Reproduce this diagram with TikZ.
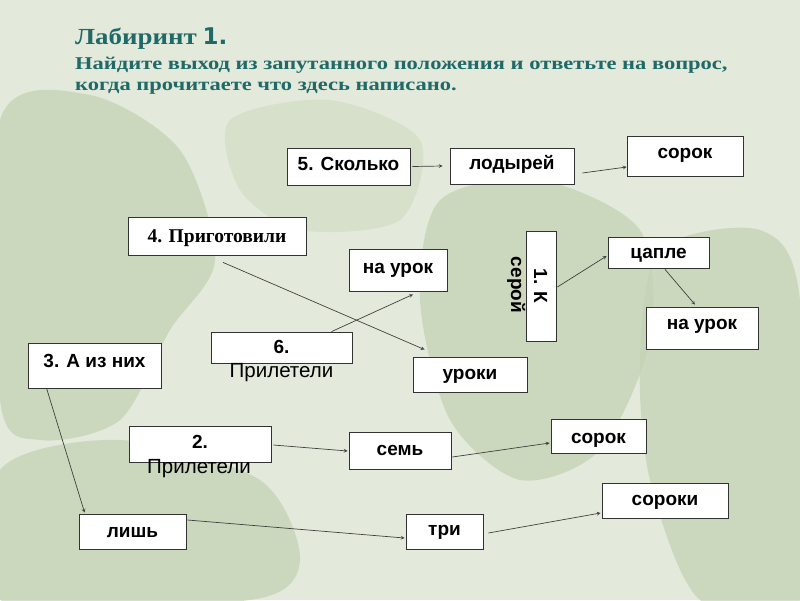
\documentclass[tikz,border=0pt]{standalone}
\usepackage{fontspec}
\setmainfont{Liberation Serif}
\newfontfamily\arialfont{Liberation Sans}
\newfontfamily\heavyfont{DejaVu Sans}
\usetikzlibrary{arrows, positioning, calc}

\definecolor{bgcol}{HTML}{E4EADB}
\definecolor{leafcol}{HTML}{C3D1B3}
\definecolor{titlecol}{HTML}{1F6A68}

\begin{document}
\begin{tikzpicture}[
    x=1pt, y=-1pt,
    box/.style={rectangle, draw=black!80, fill=white, inner sep=0pt, line width=0.8pt, font=\arialfont\bfseries\fontsize{19}{22}\selectfont},
    serifbox/.style={box, font=\bfseries\fontsize{19.5}{22}\selectfont},
    overtext/.style={inner sep=0pt, font=\arialfont\fontsize{20.5}{23}\selectfont},
    headline/.style={anchor=base west, inner sep=0pt, text=titlecol, font=\bfseries\fontsize{18}{21}\selectfont},
    leaf/.style={fill=leafcol, opacity=0.7},
    arrow/.style={->, >=stealth, draw=black!75, line width=0.7pt}
]

% background
\fill[bgcol] (0,0) rectangle (800,600);
\useasboundingbox (0,0) rectangle (800,600);
\fill[leaf] plot[smooth cycle] coordinates {(0,120) (90,95) (180,150) (215,260) (170,330) (120,420) (40,440) (0,400)};
\fill[leaf] plot[smooth cycle] coordinates {(440,200) (540,180) (640,230) (650,340) (600,450) (520,480) (450,420) (420,300)};
\fill[leaf] plot[smooth cycle] coordinates {(660,250) (760,230) (800,300) (800,600) (700,600) (650,480) (640,360)};
\fill[leaf] plot[smooth cycle] coordinates {(0,470) (120,440) (260,480) (300,560) (250,600) (0,600)};
\fill[leaf, opacity=0.4] plot[smooth cycle] coordinates {(230,120) (330,100) (420,140) (400,220) (300,230) (240,190)};

% title
\node[headline, font=\bfseries\fontsize{23}{26}\selectfont] (title) at (75,44) {\scalebox{1.17}[1]{Лабиринт} {\heavyfont 1.}};
\node[headline] (task1) at (75,69) {\scalebox{1.25}[1]{Найдите выход из запутанного положения и ответьте на вопрос,}};
\node[headline] (task2) at (75,90) {\scalebox{1.25}[1]{когда прочитаете что здесь написано.}};

% boxes
\node[box, minimum width=123pt, text height=22pt, text depth=15pt] (skolko) at (348.5,166.5) {5. Сколько};
\node[box, minimum width=124pt, text height=21pt, text depth=15pt] (lodyrey) at (512,166) {лодырей};
\node[box, minimum width=116pt, text height=22pt, text depth=18pt] (sorokA) at (685,156) {сорок};
\node[serifbox, minimum width=178pt, text height=25pt, text depth=13pt] (prigot) at (217,236) {4. Приготовили};
\node[box, minimum width=98pt, text height=24pt, text depth=18pt] (naurokA) at (398,270) {на урок};
\node[box, rotate=-90, minimum width=110pt, text height=22pt, text depth=8pt] (kseroy) at (541,286) {1. К};
\node[overtext, rotate=-90, anchor=base, font=\arialfont\bfseries\fontsize{19}{22}\selectfont] (seroy) at (511,285) {серой};
\node[box, minimum width=101pt, text height=21pt, text depth=10pt] (caple) at (658.5,252.5) {цапле};
\node[box, minimum width=112pt, text height=22pt, text depth=20pt] (naurokB) at (702,328) {на урок};
\node[box, minimum width=133pt, text height=24pt, text depth=21pt] (aizних) at (94.5,365.5) {3. А из них};
\node[box, minimum width=141pt, text height=21pt, text depth=10pt] (prilA) at (281.5,347.5) {6.};
\node[overtext, anchor=base] (prilAtext) at (281.5,377) {Прилетели};
\node[box, minimum width=114pt, text height=22pt, text depth=13pt] (uroki) at (470,374.5) {уроки};
\node[box, minimum width=142pt, text height=22pt, text depth=14pt] (prilB) at (200,444) {2.};
\node[overtext, anchor=base] (prilBtext) at (199,473) {Прилетели};
\node[box, minimum width=102pt, text height=23pt, text depth=14pt] (sem) at (400,450.5) {семь};
\node[box, minimum width=95pt, text height=24pt, text depth=10pt] (sorokB) at (598.5,436) {сорок};
\node[box, minimum width=107pt, text height=23pt, text depth=12pt] (lish) at (132.5,531.5) {лишь};
\node[box, minimum width=77pt, text height=21pt, text depth=14pt] (tri) at (444.5,531.5) {три};
\node[box, minimum width=126pt, text height=22pt, text depth=13pt] (soroki) at (665,500.5) {сороки};

% connectors
\draw[arrow] ([xshift=2pt]skolko.east) -- ([xshift=-7pt]lodyrey.west);
\draw[arrow] ([shift={(8,7)}]lodyrey.east) -- ([shift={(0,11)}]sorokA.west);
\draw[arrow] ([shift={(6,7)}]prigot.south) -- ([shift={(12,-7)}]uroki.north west);
\draw[arrow] ([shift={(50,0)}]prilA.north) -- ([shift={(15,3)}]naurokA.south);
\draw[arrow] ([shift={(1,1)}]kseroy.north) -- ([shift={(-1,3.5)}]caple.west);
\draw[arrow] ([shift={(6.5,1)}]caple.south) -- ([shift={(-7,-2)}]naurokB.north);
\draw[arrow] ([shift={(19,0)}]aizних.south west) -- ([shift={(6,-1)}]lish.north west);
\draw[arrow] ([shift={(2,1)}]prilB.east) -- ([shift={(-1,0.5)}]sem.west);
\draw[arrow] ([shift={(1,6.5)}]sem.east) -- ([shift={(-1,7)}]sorokB.west);
\draw[arrow] ([shift={(1,-11.5)}]lish.east) -- ([shift={(-1,6.5)}]tri.west);
\draw[arrow] ([shift={(5,1.5)}]tri.east) -- ([shift={(-1,12.5)}]soroki.west);

\end{tikzpicture}
\end{document}
